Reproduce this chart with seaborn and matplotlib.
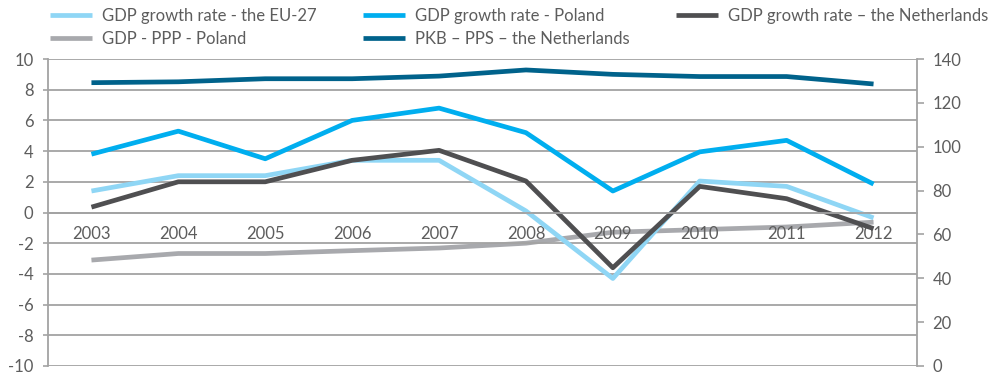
import numpy as np
import pandas as pd
import matplotlib
matplotlib.use("Agg")
import matplotlib.pyplot as plt
import seaborn as sns
from matplotlib.lines import Line2D

# Categories and series
years = ["2003", "2004", "2005", "2006", "2007", "2008", "2009", "2010", "2011", "2012"]
eu_growth = [1.4, 2.4, 2.4, 3.4, 3.4, 0.1, -4.3, 2.05, 1.7, -0.35]
pl_growth = [3.8, 5.3, 3.5, 6.0, 6.8, 5.2, 1.4, 3.95, 4.7, 1.85]
nl_growth = [0.35, 2.0, 2.0, 3.4, 4.05, 2.05, -3.6, 1.7, 0.9, -1.05]
pl_ppp = [48.3, 51.3, 51.3, 52.6, 53.8, 56.0, 61.0, 62.2, 63.4, 65.6]
nl_pps = [129.2, 129.6, 131.0, 131.0, 132.2, 135.0, 133.0, 132.0, 132.0, 128.6]

left_ticks = list(range(-10, 11, 2))
right_ticks = list(range(0, 141, 20))

labels = {
    "eu": "GDP growth rate - the EU-27",
    "pl": "GDP growth rate - Poland",
    "nl": "GDP growth rate \u2013 the Netherlands",
    "ppp": "GDP - PPP - Poland",
    "pps": "PKB \u2013 PPS \u2013 the Netherlands",
}
colors = {
    "eu": "#8fd6f5",
    "pl": "#00aeef",
    "nl": "#4f4f51",
    "ppp": "#a8a9ad",
    "pps": "#00628b",
}

sns.set_style("white")
plt.rcParams["font.family"] = ["Lato", "DejaVu Sans"]
text_c = "#5d5d5d"
grid_c = "#a3a3a3"
fs = 12
legend_fs = 12

df = pd.DataFrame({
    "x": np.arange(len(years)),
    "eu": eu_growth, "pl": pl_growth, "nl": nl_growth,
    "ppp": pl_ppp, "pps": nl_pps,
})

W, H = 994, 374
fig = plt.figure(figsize=(W / 100, H / 100), dpi=100)
ax = fig.add_axes([48 / W, 8 / H, 869 / W, 307 / H])
ax2 = ax.twinx()

lw = 3.4
for key in ["ppp", "pps"]:
    sns.lineplot(data=df, x="x", y=key, ax=ax2, color=colors[key], lw=lw,
                 solid_capstyle="butt", legend=False)
for key in ["eu", "pl", "nl"]:
    sns.lineplot(data=df, x="x", y=key, ax=ax, color=colors[key], lw=lw,
                 solid_capstyle="butt", legend=False)

ax.set_zorder(ax2.get_zorder() + 1)
ax.patch.set_visible(False)

# primary axis
ax.set_xlim(-0.5, len(years) - 0.5)
ax.set_ylim(-10, 10)
ax.set_yticks(left_ticks)
ax.set_yticklabels([str(v) for v in left_ticks])
ax.grid(axis="y", color=grid_c, lw=1.3)
ax.grid(axis="x", visible=False)
ax.set_axisbelow(True)
ax.set_xlabel("")
ax.set_ylabel("")

for s in ["top", "right"]:
    ax.spines[s].set_visible(False)
ax.spines["left"].set_color(grid_c)
ax.spines["left"].set_linewidth(1.3)
ax.spines["bottom"].set_position(("data", 0))
ax.spines["bottom"].set_color(grid_c)
ax.spines["bottom"].set_linewidth(1.3)

ax.set_xticks(np.arange(-0.5, len(years), 1.0))
ax.set_xticklabels([])
ax.set_xticks(np.arange(len(years)), minor=True)
ax.set_xticklabels(years, minor=True)
ax.tick_params(axis="x", which="major", length=4.5, width=1.2, color=grid_c, direction="out")
ax.tick_params(axis="x", which="minor", length=0, pad=10, labelsize=fs, labelcolor=text_c)
ax.tick_params(axis="y", length=3.5, width=1.2, color=grid_c, pad=7, labelsize=fs,
               labelcolor=text_c, left=True)

# secondary axis
ax2.set_ylim(0, 140)
ax2.set_yticks(right_ticks)
ax2.set_yticklabels([str(v) for v in right_ticks])
ax2.set_ylabel("")
ax2.grid(False)
for s in ["top", "left", "bottom"]:
    ax2.spines[s].set_visible(False)
ax2.spines["right"].set_color(grid_c)
ax2.spines["right"].set_linewidth(1.3)
ax2.tick_params(axis="y", length=5, width=1.2, color=grid_c, pad=6, labelsize=fs,
                labelcolor=text_c, right=True)

# legend: three columns placed side by side
def handle(key):
    return Line2D([], [], color=colors[key], lw=lw, solid_capstyle="butt")

columns = [(["eu", "ppp"], 50), (["pl", "pps"], 363), (["nl"], 676)]
for keys, xpx in columns:
    fig.legend([handle(k) for k in keys], [labels[k] for k in keys],
               loc="upper left", bbox_to_anchor=(xpx / W, 1 - 8 / H),
               frameon=False, borderpad=0, borderaxespad=0,
               handlelength=2.5, handletextpad=0.6, labelspacing=0.42,
               fontsize=legend_fs, labelcolor=text_c)

fig.savefig("out.png", dpi=100)
